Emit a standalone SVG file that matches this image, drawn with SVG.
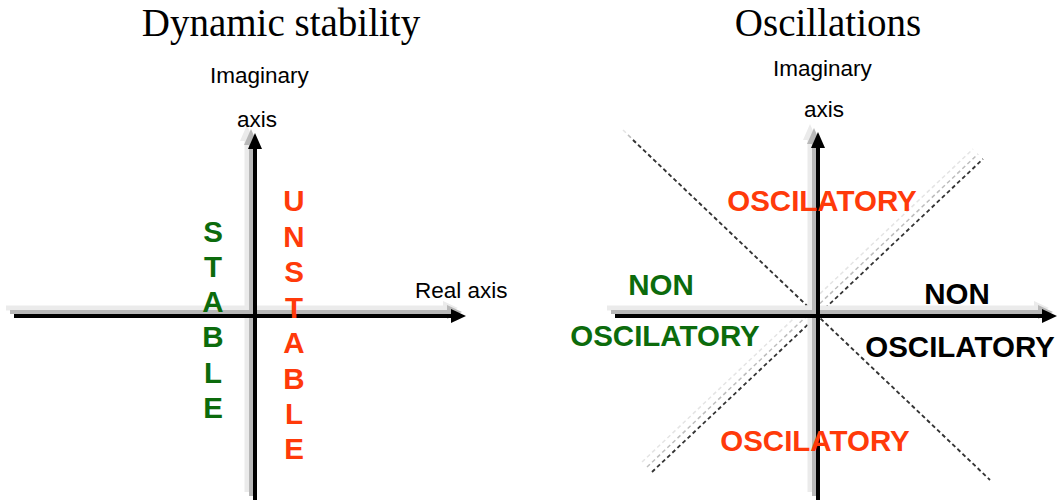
<svg xmlns="http://www.w3.org/2000/svg" width="1059" height="503" viewBox="0 0 1059 503">
  <style>
    .title { font-family: "Liberation Serif", "Times New Roman", serif; font-size: 39px; fill: #000; text-anchor: middle; }
    .lbl { font-family: "Liberation Sans", Arial, sans-serif; font-size: 22.5px; fill: #000; }
    .big { font-family: "Liberation Sans", Arial, sans-serif; font-size: 29.5px; font-weight: bold; text-anchor: middle; }
    .green { fill: #0c6b0c; }
    .red { fill: #ff3a0a; }
    .black { fill: #000; }
    .ax { stroke: #000; stroke-width: 4; fill: none; }
    .axh { fill: #000; }
    .sh1 { stroke: #b8b8b8; stroke-width: 4; fill: none; }
    .sh1h { fill: #b8b8b8; }
    .sh2 { stroke: #ebebeb; stroke-width: 5; fill: none; }
    .sh2h { fill: #ebebeb; }
    .dash { stroke: #333; stroke-width: 1.8; stroke-dasharray: 4 3; fill: none; }
    .dash1 { stroke: #bdbdbd; stroke-width: 1.5; stroke-dasharray: 4 3; fill: none; }
    .dash2 { stroke: #e4e4e4; stroke-width: 1.5; stroke-dasharray: 4 3; fill: none; }
  </style>

  <!-- Left panel: s-plane stability regions -->
  <g id="left-title">
    <text class="title" x="281" y="36">Dynamic stability</text>
  </g>

  <g id="left-axes">
    <!-- soft up-left shadow, two tones -->
    <g transform="translate(-8,-8)">
      <line class="sh2" x1="255" y1="500" x2="255" y2="146"/>
      <polygon class="sh2h" points="255,133 248,149 262,149"/>
      <line class="sh2" x1="14" y1="316" x2="452" y2="316"/>
      <polygon class="sh2h" points="466,316 451,309 451,323"/>
    </g>
    <g transform="translate(-4,-4)">
      <line class="sh1" x1="255" y1="500" x2="255" y2="146"/>
      <polygon class="sh1h" points="255,133 248,149 262,149"/>
      <line class="sh1" x1="14" y1="316" x2="452" y2="316"/>
      <polygon class="sh1h" points="466,316 451,309 451,323"/>
    </g>
    <line class="ax" x1="255" y1="500" x2="255" y2="146"/>
    <polygon class="axh" points="255,133 248,149 262,149"/>
    <line class="ax" x1="14" y1="316" x2="452" y2="316"/>
    <polygon class="axh" points="466,316 451,309 451,323"/>
  </g>

  <g id="left-axis-labels">
    <text class="lbl" x="210" y="83">Imaginary</text>
    <text class="lbl" x="237" y="127">axis</text>
    <text class="lbl" x="415" y="298">Real axis</text>
  </g>

  <g id="stable">
    <text class="big green" x="213" y="242">S</text>
    <text class="big green" x="213" y="277">T</text>
    <text class="big green" x="213" y="312">A</text>
    <text class="big green" x="213" y="347">B</text>
    <text class="big green" x="213" y="383">L</text>
    <text class="big green" x="213" y="418">E</text>
  </g>

  <g id="unstable">
    <text class="big red" x="294" y="211">U</text>
    <text class="big red" x="294" y="247">N</text>
    <text class="big red" x="294" y="282">S</text>
    <text class="big red" x="294" y="318">T</text>
    <text class="big red" x="294" y="353">A</text>
    <text class="big red" x="294" y="389">B</text>
    <text class="big red" x="294" y="424">L</text>
    <text class="big red" x="294" y="459">E</text>
  </g>

  <!-- Right panel: oscillation regions -->
  <g id="right-title">
    <text class="title" x="828" y="36">Oscillations</text>
  </g>

  <g id="right-diagonals">
    <line class="dash2" x1="623" y1="130" x2="980" y2="470"/>
    <line class="dash1" x1="628" y1="135" x2="985" y2="475"/>
    <line class="dash" x1="633" y1="140" x2="990" y2="480"/>
    <line class="dash2" x1="642" y1="462" x2="973" y2="149"/>
    <line class="dash1" x1="647" y1="467" x2="978" y2="154"/>
    <line class="dash" x1="652" y1="472" x2="983" y2="159"/>
  </g>

  <g id="right-axes">
    <g transform="translate(-8,-8)">
      <line class="sh2" x1="818" y1="500" x2="818" y2="146"/>
      <polygon class="sh2h" points="818,132 811,148 825,148"/>
      <line class="sh2" x1="615" y1="316" x2="1042" y2="316"/>
      <polygon class="sh2h" points="1057,316 1042,309 1042,323"/>
    </g>
    <g transform="translate(-4,-4)">
      <line class="sh1" x1="818" y1="500" x2="818" y2="146"/>
      <polygon class="sh1h" points="818,132 811,148 825,148"/>
      <line class="sh1" x1="615" y1="316" x2="1042" y2="316"/>
      <polygon class="sh1h" points="1057,316 1042,309 1042,323"/>
    </g>
    <line class="ax" x1="818" y1="500" x2="818" y2="146"/>
    <polygon class="axh" points="818,132 811,148 825,148"/>
    <line class="ax" x1="615" y1="316" x2="1042" y2="316"/>
    <polygon class="axh" points="1057,316 1042,309 1042,323"/>
  </g>

  <g id="right-axis-labels">
    <text class="lbl" x="773" y="76">Imaginary</text>
    <text class="lbl" x="804" y="117">axis</text>
  </g>

  <g id="osc-top">
    <text class="big red" x="822" y="211">OSCILATORY</text>
  </g>
  <g id="osc-bottom">
    <text class="big red" x="815" y="451">OSCILATORY</text>
  </g>
  <g id="non-osc-left">
    <text class="big green" x="661" y="295">NON</text>
    <text class="big green" x="665" y="346">OSCILATORY</text>
  </g>
  <g id="non-osc-right">
    <text class="big black" x="957" y="304">NON</text>
    <text class="big black" x="960" y="357">OSCILATORY</text>
  </g>
</svg>
